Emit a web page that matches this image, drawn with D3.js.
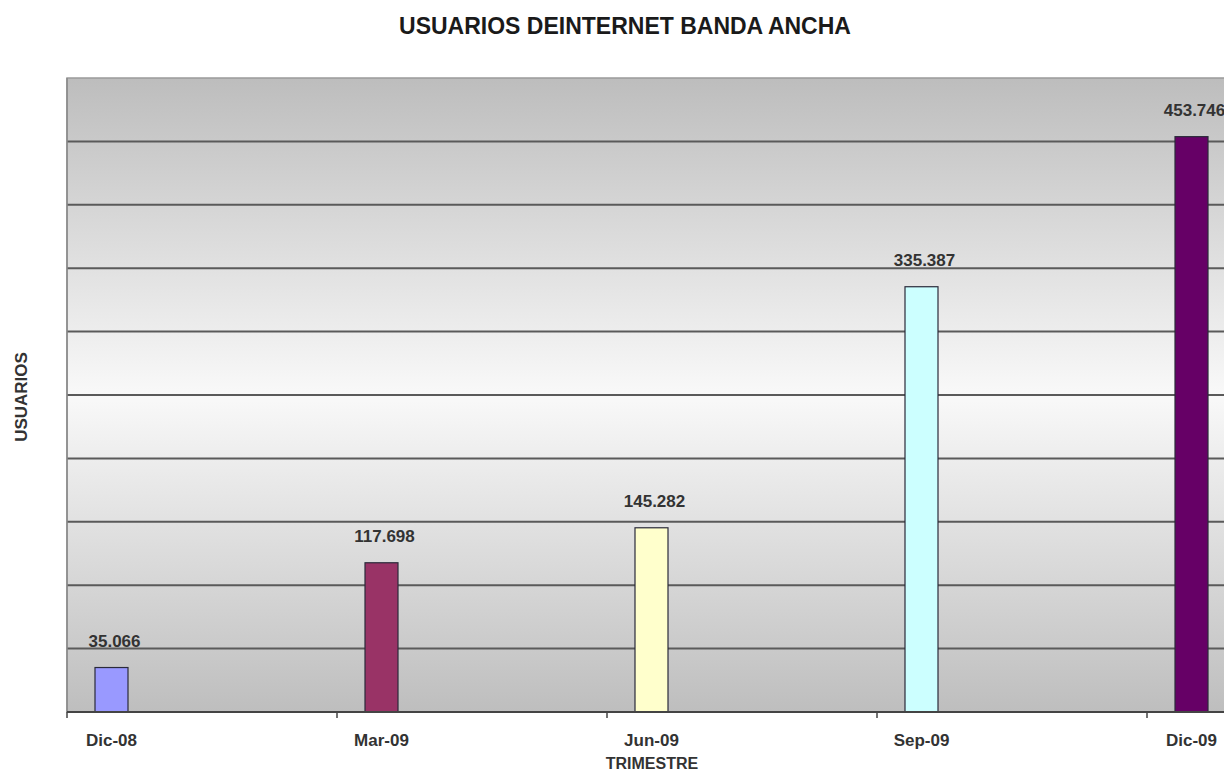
<!DOCTYPE html>
<html><head><meta charset="utf-8">
<script src="https://cdn.jsdelivr.net/npm/d3@7"></script>
<style>html,body{margin:0;padding:0;background:#fff;overflow:hidden}</style>
</head><body>
<svg id="chart" width="1224" height="775"></svg>
<script>
const categories = ["Dic-08", "Mar-09", "Jun-09", "Sep-09", "Dic-09"];
const values = [35066, 117698, 145282, 335387, 453746];
const valueLabels = ["35.066", "117.698", "145.282", "335.387", "453.746"];
const barColors = ["#9999ff", "#993366", "#ffffcc", "#ccffff", "#660066"];
const yTicks = [0, 50000, 100000, 150000, 200000, 250000, 300000, 350000, 400000, 450000, 500000];
const titleText = "USUARIOS DEINTERNET BANDA ANCHA";
const xTitle = "TRIMESTRE";
const yTitle = "USUARIOS";

(function () {
const svg = d3.select("#chart");
const font = "Liberation Sans, Arial, sans-serif";
const mLeft = 67, mTop = 78, mBottom = 712;
const step = 270;
const mRight = mLeft + step * categories.length;

const x = d3.scaleBand().domain(categories).range([mLeft, mRight]).paddingInner(0).paddingOuter(0);
const y = d3.scaleLinear().domain([0, 500000]).range([mBottom, mTop]);

const defs = svg.append("defs");
const grad = defs.append("linearGradient").attr("id", "bg").attr("x1", 0).attr("y1", 0).attr("x2", 0).attr("y2", 1);
grad.append("stop").attr("offset", "0%").attr("stop-color", "#bdbdbd");
grad.append("stop").attr("offset", "50%").attr("stop-color", "#f9f9f9");
grad.append("stop").attr("offset", "100%").attr("stop-color", "#bebebe");

svg.append("rect").attr("x", mLeft).attr("y", mTop).attr("width", mRight - mLeft).attr("height", mBottom - mTop)
  .attr("fill", "url(#bg)").attr("stroke", "#9a9a9a").attr("stroke-width", 1.5);

svg.append("g").selectAll("line").data(yTicks.filter(d => d > 0 && d < 500000)).join("line")
  .attr("x1", mLeft).attr("x2", mRight).attr("y1", d => y(d)).attr("y2", d => y(d))
  .attr("stroke", "#5a5a5a").attr("stroke-width", 2);

svg.append("line").attr("x1", mLeft).attr("x2", mLeft).attr("y1", mTop).attr("y2", mBottom)
  .attr("stroke", "#8a8a8a").attr("stroke-width", 1.5);

const barW = 33, barOff = 28;
svg.append("g").selectAll("rect").data(values).join("rect")
  .attr("x", (d, i) => x(categories[i]) + barOff)
  .attr("y", d => y(d))
  .attr("width", barW)
  .attr("height", d => mBottom - y(d))
  .attr("fill", (d, i) => barColors[i])
  .attr("stroke", "#2a2a3a").attr("stroke-width", 1.2);

const xAxis = d3.axisBottom(x).tickSize(6).tickFormat("");
const gx = svg.append("g").attr("transform", `translate(0,${mBottom})`).call(xAxis);
gx.select(".domain").remove();
gx.selectAll(".tick").attr("transform", d => `translate(${x(d)},0)`);
gx.selectAll(".tick line").attr("stroke", "#444").attr("stroke-width", 1.5);
svg.append("line").attr("x1", mLeft).attr("x2", mRight).attr("y1", mBottom).attr("y2", mBottom)
  .attr("stroke", "#444").attr("stroke-width", 2);

svg.append("g").selectAll("text").data(categories).join("text")
  .attr("x", d => x(d) + barOff + barW / 2)
  .attr("y", 746)
  .attr("text-anchor", "middle")
  .attr("font-family", font)
  .attr("font-weight", "bold").attr("font-size", 17).attr("fill", "#333")
  .text(d => d);

svg.append("g").selectAll("text").data(values).join("text")
  .attr("x", (d, i) => x(categories[i]) + barOff + barW / 2 + 3)
  .attr("y", d => y(d) - 21)
  .attr("text-anchor", "middle")
  .attr("font-family", font)
  .attr("font-weight", "bold").attr("font-size", 17).attr("fill", "#333")
  .text((d, i) => valueLabels[i]);

svg.append("text").attr("x", 625).attr("y", 34).attr("text-anchor", "middle")
  .attr("font-family", font)
  .attr("font-weight", "bold").attr("font-size", 23).attr("fill", "#1a1a1a")
  .text(titleText);

svg.append("text").attr("x", 652).attr("y", 769).attr("text-anchor", "middle")
  .attr("font-family", font)
  .attr("font-weight", "bold").attr("font-size", 16).attr("fill", "#333")
  .text(xTitle);

svg.append("text").attr("transform", "translate(27,397) rotate(-90)").attr("text-anchor", "middle")
  .attr("font-family", font)
  .attr("font-weight", "bold").attr("font-size", 17).attr("fill", "#333")
  .text(yTitle);
})();
</script>
</body></html>
